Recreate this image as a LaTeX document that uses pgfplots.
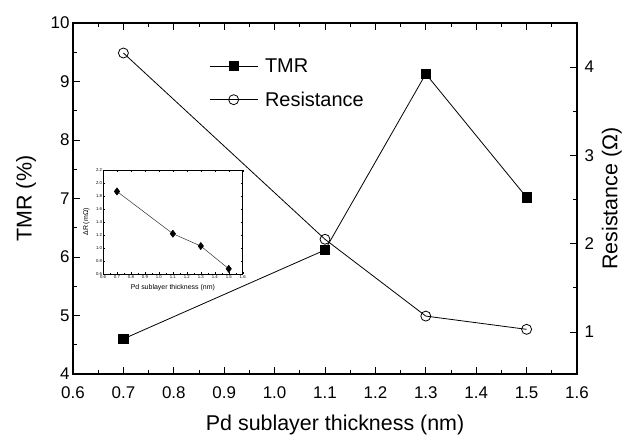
\documentclass[border=0pt]{standalone}
\usepackage{fontspec}
\setmainfont{Liberation Sans}
\usepackage{pgfplots}
\pgfplotsset{compat=1.18}
\begin{document}
\begin{tikzpicture}
\pgfplotsset{
  every axis/.append style={
    /pgf/number format/assume math mode=true,
    tick align=inside,
    axis line style={line width=1.1bp},
    every tick/.style={black, line width=0.9bp},
  }
}
\begin{axis}[
  name=main,
  at={(0,0)}, anchor=south west,
  scale only axis, width=504bp, height=351bp,
  xmin=0.6, xmax=1.6, ymin=4, ymax=10,
  xtick={0.6,0.7,0.8,0.9,1.0,1.1,1.2,1.3,1.4,1.5,1.6},
  ytick={4,5,6,7,8,9,10},
  minor x tick num=1, minor y tick num=1,
  major tick length=7bp, minor tick length=4bp,
  xtick pos=both, ytick pos=left, xticklabel pos=bottom,
  xticklabel style={/pgf/number format/fixed, /pgf/number format/fixed zerofill, /pgf/number format/precision=1, yshift=-9bp},
  tick label style={font=\fontsize{17}{20}\selectfont},
  label style={font=\fontsize{21.5}{25}\selectfont},
  xlabel={Pd sublayer thickness (nm)},
  ylabel={TMR (\%)},
  xlabel style={at={(axis description cs:0.52,-0.145)}, anchor=center},
  ylabel style={at={(axis description cs:-0.093,0.5)}, anchor=center},
  legend style={at={(axis description cs:0.270,0.905)}, anchor=north west,
    draw=none, fill=none, font=\fontsize{20}{24}\selectfont,
    row sep=14bp, inner sep=0pt},
  legend cell align=left,
  legend image code/.code={\draw[mark repeat=2,mark phase=2,#1] plot coordinates {(0bp,0bp) (24bp,0bp) (48bp,0bp)};},
]
\addplot[black, line width=0.8bp, mark=square*, mark size=4.7bp, mark options={solid,fill=black}]
  coordinates {(0.7,4.60) (1.1,6.12) (1.3,9.13) (1.5,7.02)};
\addlegendentry{\hspace*{5bp}TMR}
\addlegendimage{black, line width=0.8bp, mark=o, mark size=5bp, mark options={solid,fill=white}}
\addlegendentry{\hspace*{5bp}Resistance}
\end{axis}
\begin{axis}[
  at={(0,0)}, anchor=south west,
  scale only axis, width=504bp, height=351bp,
  xmin=0.6, xmax=1.6, ymin=0.524, ymax=4.5,
  axis x line=none, axis y line*=right,
  ytick={1,2,3,4}, minor y tick num=1,
  major tick length=7bp, minor tick length=4bp,
  tick label style={font=\fontsize{17}{20}\selectfont},
  yticklabel style={xshift=4bp},
  label style={font=\fontsize{21.5}{25}\selectfont},
  ylabel={Resistance (Ω)},
  ylabel style={at={(axis description cs:1.069,0.5)}, anchor=center},
]
\addplot[black, line width=0.8bp, mark=o, mark size=5bp, mark options={solid,fill=white}]
  coordinates {(0.7,4.16) (1.1,2.05) (1.3,1.18) (1.5,1.03)};
\end{axis}
\begin{axis}[
  at={(30bp,100bp)}, anchor=south west,
  scale only axis, width=139.7bp, height=104bp,
  xmin=0.6, xmax=1.6, ymin=0.6, ymax=2.2,
  axis line style={line width=0.6bp},
  every tick/.style={black, line width=0.4bp},
  xtick={0.6,0.7,0.8,0.9,1.0,1.1,1.2,1.3,1.4,1.5,1.6},
  ytick={0.6,0.8,1.0,1.2,1.4,1.6,1.8,2.0,2.2},
  minor x tick num=1, minor y tick num=1,
  major tick length=2bp, minor tick length=1.2bp,
  xticklabel style={/pgf/number format/fixed, /pgf/number format/fixed zerofill, /pgf/number format/precision=1, yshift=-0.5bp},
  yticklabel style={/pgf/number format/fixed, /pgf/number format/fixed zerofill, /pgf/number format/precision=1},
  tick label style={font=\fontsize{4.3}{5}\selectfont, inner sep=0.8bp},
  label style={font=\fontsize{7}{8}\selectfont},
  xlabel={Pd sublayer thickness (nm)},
  ylabel={ΔR (mΩ)},
  xlabel style={at={(axis description cs:0.5,-0.13)}, anchor=center},
  ylabel style={at={(axis description cs:-0.12,0.5)}, anchor=center},
  axis background/.style={fill=white},
]
\addplot[black!80, line width=0.5bp, mark=diamond*, mark size=3.6bp, mark options={solid,fill=black,draw=black}]
  coordinates {(0.7,1.87) (1.1,1.22) (1.3,1.03) (1.5,0.68)};
\end{axis}
\pgfresetboundingbox
\path[use as bounding box] (-73bp,-63bp) rectangle (564bp,374bp);
\end{tikzpicture}
\end{document}
